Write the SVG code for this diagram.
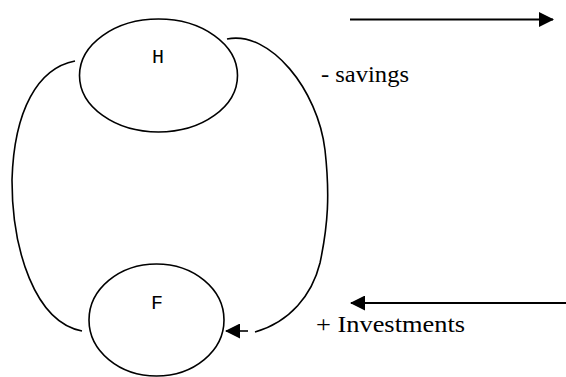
<svg xmlns="http://www.w3.org/2000/svg" width="566" height="377" viewBox="0 0 566 377">
<defs>
<style>
.node{fill:none;stroke:#000;stroke-width:1.6}
.con{fill:none;stroke:#000;stroke-width:1.6}
.arr{fill:none;stroke:#000;stroke-width:2}
.lbl{font-family:"Liberation Mono","Courier New",monospace;font-size:20px;fill:#000;text-anchor:middle}
.txt{font-family:"Liberation Serif","Times New Roman",serif;font-size:23px;fill:#000}
</style>
<marker id="ah" markerWidth="15" markerHeight="15" refX="14" refY="7.5" orient="auto" markerUnits="userSpaceOnUse">
<path d="M0,0 L15,7.5 L0,15 Z" fill="#000"/>
</marker>
</defs>
<rect width="566" height="377" fill="#fff"/>
<g id="connectors">
<path class="con" d="M75,61 C38,68 14,110 12,180 C12,250 35,322 82,331"/>
<path class="con" d="M227,39 C270,30 318,90 325,150 C330,195 328,225 320,263 C312,295 290,322 255,332"/>
<line class="con" x1="248" y1="331" x2="226" y2="331" marker-end="url(#ah)"/>
<line class="arr" x1="350" y1="19.5" x2="553" y2="19.5" marker-end="url(#ah)"/>
<line class="arr" x1="566" y1="303" x2="351" y2="303" marker-end="url(#ah)"/>
</g>
<g id="H">
<ellipse class="node" cx="158.5" cy="75.5" rx="79" ry="56.5"/>
<text class="lbl" x="158" y="62.5">H</text>
</g>
<g id="F">
<ellipse class="node" cx="156.5" cy="320" rx="67.5" ry="56"/>
<text class="lbl" x="157" y="309">F</text>
</g>
<text class="txt" x="321" y="82" textLength="88" lengthAdjust="spacingAndGlyphs">- savings</text>
<text class="txt" x="316" y="332" textLength="149" lengthAdjust="spacingAndGlyphs">+ Investments</text>
</svg>
